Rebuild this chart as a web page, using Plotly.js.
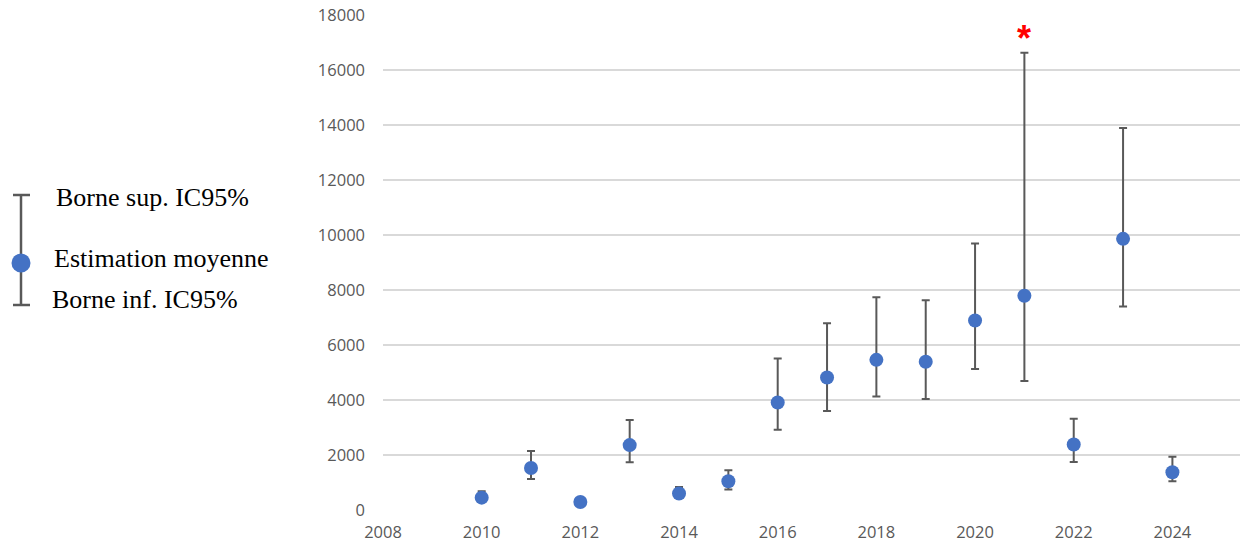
<!DOCTYPE html>
<html>
<head>
<meta charset="utf-8">
<script src="https://cdn.plot.ly/plotly-3.0.1.min.js"></script>
<style>html,body{margin:0;padding:0;background:#fff;}#chart{width:1240px;height:541px;}</style>
</head>
<body>
<div id="chart"></div>
<script>
// Data
const years = [2010, 2011, 2012, 2013, 2014, 2015, 2016, 2017, 2018, 2019, 2020, 2021, 2022, 2023, 2024];
const estimate = [450, 1530, 290, 2360, 600, 1045, 3910, 4820, 5460, 5390, 6890, 7790, 2380, 9860, 1375];
const upperCI = [680, 2150, 400, 3270, 840, 1445, 5510, 6790, 7740, 7625, 9690, 16630, 3320, 13890, 1940];
const lowerCI = [300, 1125, 200, 1740, 450, 750, 2920, 3600, 4125, 4040, 5130, 4690, 1750, 7400, 1045];
const legendLabels = ["Borne sup. IC95%", "Estimation moyenne", "Borne inf. IC95%"];
const flaggedYear = 2021;
const yTicks = [0, 2000, 4000, 6000, 8000, 10000, 12000, 14000, 16000, 18000];
const xTicks = [2008, 2010, 2012, 2014, 2016, 2018, 2020, 2022, 2024];

const W = 1240, H = 541;
const M = {l: 383, r: 0, t: 15, b: 31};
const PW = W - M.l - M.r, PH = H - M.t - M.b;
const px = x => (x - M.l) / PW;
const py = y => (H - M.b - y) / PH;

const blue = '#4472C4';
const grey = '#595959';

const errPlus = upperCI.map((u, i) => u - estimate[i]);
const errMinus = lowerCI.map((l, i) => estimate[i] - l);

const trace = {
  type: 'scatter', mode: 'markers', x: years, y: estimate,
  marker: {color: blue, size: 14},
  error_y: {type: 'data', symmetric: false, array: errPlus, arrayminus: errMinus,
            color: grey, thickness: 2, width: 4},
  hoverinfo: 'skip', showlegend: false
};

const fi = years.indexOf(flaggedYear);

const legendFont = {family: 'Liberation Serif, Times New Roman, serif', size: 26, color: '#000'};
const tickFont = {family: 'Open Sans, sans-serif', size: 16.5, color: grey};

const layout = {
  width: W, height: H,
  margin: M,
  paper_bgcolor: '#fff', plot_bgcolor: '#fff',
  showlegend: false,
  font: {family: 'Open Sans, sans-serif', size: 16, color: grey},
  xaxis: {range: [2008, 2025.37], tickvals: xTicks, ticktext: xTicks.map(String),
          showgrid: false, zeroline: false, showline: false, ticks: '', ticklabelstandoff: 10,
          tickfont: tickFont, fixedrange: true},
  yaxis: {range: [0, 18000], tickvals: yTicks, ticktext: yTicks.map(String),
          showgrid: true, gridcolor: '#d9d9d9', gridwidth: 1.5,
          zeroline: false, showline: false, ticks: '', ticklabelstandoff: 17,
          tickfont: tickFont, fixedrange: true},
  shapes: [
    {type: 'line', xref: 'paper', yref: 'paper', x0: px(21), x1: px(21), y0: py(195), y1: py(305),
     line: {color: grey, width: 2.5}},
    {type: 'line', xref: 'paper', yref: 'paper', x0: px(13), x1: px(30), y0: py(195), y1: py(195),
     line: {color: grey, width: 2.5}},
    {type: 'line', xref: 'paper', yref: 'paper', x0: px(13), x1: px(30), y0: py(305), y1: py(305),
     line: {color: grey, width: 2.5}},
    {type: 'circle', xref: 'paper', yref: 'paper', x0: px(11.5), x1: px(30.5), y0: py(253.5), y1: py(272.5),
     fillcolor: blue, line: {color: blue, width: 0}}
  ],
  annotations: [
    {xref: 'paper', yref: 'paper', x: px(54), y: py(197), xanchor: 'left', yanchor: 'middle',
     text: legendLabels[0], showarrow: false, font: legendFont},
    {xref: 'paper', yref: 'paper', x: px(52), y: py(258), xanchor: 'left', yanchor: 'middle',
     text: legendLabels[1], showarrow: false, font: legendFont},
    {xref: 'paper', yref: 'paper', x: px(50), y: py(300), xanchor: 'left', yanchor: 'middle',
     text: legendLabels[2], showarrow: false, font: legendFont},
    {xref: 'x', yref: 'y', x: years[fi], y: upperCI[fi], yshift: -8, xanchor: 'center', yanchor: 'bottom',
     text: '<b>*</b>', showarrow: false, font: {family: 'Liberation Sans, Arial, sans-serif', size: 36, color: '#ff0000'}}
  ]
};

Plotly.newPlot('chart', [trace], layout, {displayModeBar: false, staticPlot: true});
</script>
</body>
</html>
